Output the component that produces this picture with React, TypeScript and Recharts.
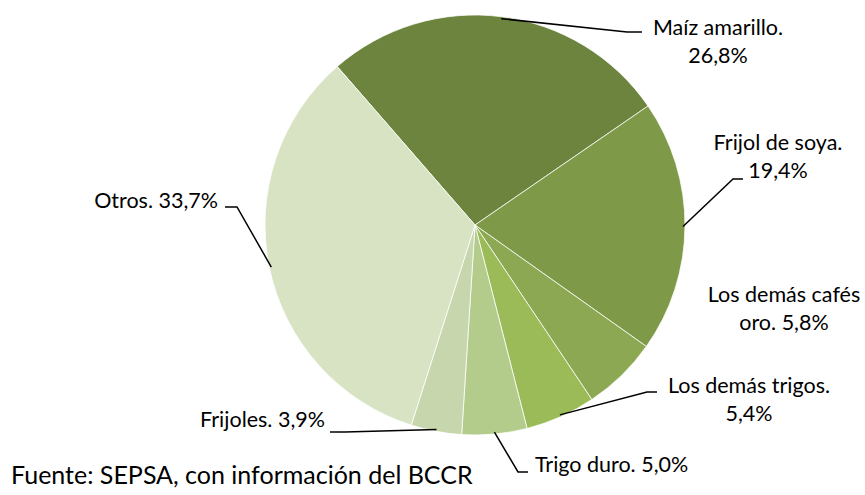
import { PieChart, Pie, Cell } from 'recharts';

// Participación de las importaciones agrícolas (%)
const categorias = [
  'Maíz amarillo.',
  'Frijol de soya.',
  'Los demás cafés oro.',
  'Los demás trigos.',
  'Trigo duro.',
  'Frijoles.',
  'Otros.',
];
const participacion = [26.8, 19.4, 5.8, 5.4, 5.0, 3.9, 33.7];
const colores = ['#6C843E', '#7E9A48', '#8CA852', '#9BBB59', '#B3CB8B', '#C7D6AD', '#D8E3C3'];

// texto de cada etiqueta (líneas)
const etiquetas = [
  ['Maíz amarillo.', '26,8%'],
  ['Frijol de soya.', '19,4%'],
  ['Los demás cafés', 'oro. 5,8%'],
  ['Los demás trigos.', '5,4%'],
  ['Trigo duro. 5,0%'],
  ['Frijoles. 3,9%'],
  ['Otros. 33,7%'],
];

// ubicación de etiquetas relativa al centro del pastel
const posEtiquetas: { x: number; y: number; anchor: string; codo?: [number, number]; fin?: number }[] = [
  { x: 243, y: -190, anchor: 'middle', codo: [152, -193], fin: 167 },
  { x: 303, y: -75, anchor: 'middle', codo: [258, -46], fin: 268 },
  { x: 309, y: 77, anchor: 'middle' },
  { x: 274, y: 168, anchor: 'middle', codo: [172, 167], fin: 182 },
  { x: 60, y: 247, anchor: 'start', codo: [43, 247], fin: 53 },
  { x: -150, y: 202, anchor: 'end', codo: [-130, 207], fin: -145 },
  { x: -257, y: -17, anchor: 'end', codo: [-238, -18], fin: -250 },
];

const datos = categorias.map((nombre, i) => ({ nombre, valor: participacion[i] }));

const FUENTE = 'Lato, "Liberation Sans", sans-serif';
const RAD = Math.PI / 180;

const Etiqueta = (props: any) => {
  const { cx, cy, midAngle, outerRadius, index } = props;
  const pos = posEtiquetas[index];
  const lineas = etiquetas[index];
  const r = outerRadius - 2;
  const sx = cx + r * Math.cos(-midAngle * RAD);
  const sy = cy + r * Math.sin(-midAngle * RAD);
  return (
    <g>
      {pos.codo && (
        <polyline
          points={`${sx},${sy} ${cx + pos.codo[0]},${cy + pos.codo[1]} ${cx + (pos.fin as number)},${cy + pos.codo[1]}`}
          fill="none"
          stroke="#000"
          strokeWidth={1.5}
        />
      )}
      <text
        x={cx + pos.x}
        y={cy + pos.y}
        textAnchor={pos.anchor}
        fill="#000"
        fontSize={21.5}
        fontFamily={FUENTE}
      >
        {lineas.map((l, j) => (
          <tspan key={j} x={cx + pos.x} dy={j === 0 ? 0 : 28}>
            {l}
          </tspan>
        ))}
      </text>
    </g>
  );
};

export default function App() {
  return (
    <div style={{ position: 'absolute', left: 0, top: 0, width: 865, height: 495, background: '#fff' }}>
      <PieChart width={865} height={495} margin={{ top: 0, right: 0, bottom: 0, left: 0 }}>
        <Pie
          data={datos}
          dataKey="valor"
          nameKey="nombre"
          cx={475}
          cy={225}
          outerRadius={210}
          startAngle={131}
          endAngle={-229}
          stroke="#fff"
          strokeWidth={0.75}
          label={Etiqueta}
          labelLine={false}
          isAnimationActive={false}
        >
          {datos.map((d, i) => (
            <Cell key={d.nombre} fill={colores[i]} />
          ))}
        </Pie>
      </PieChart>
      <div
        style={{
          position: 'absolute',
          left: 11,
          top: 459,
          fontFamily: FUENTE,
          fontSize: 25,
          lineHeight: '30px',
          color: '#000',
          whiteSpace: 'nowrap',
        }}
      >
        Fuente: SEPSA, con información del BCCR
      </div>
    </div>
  );
}
